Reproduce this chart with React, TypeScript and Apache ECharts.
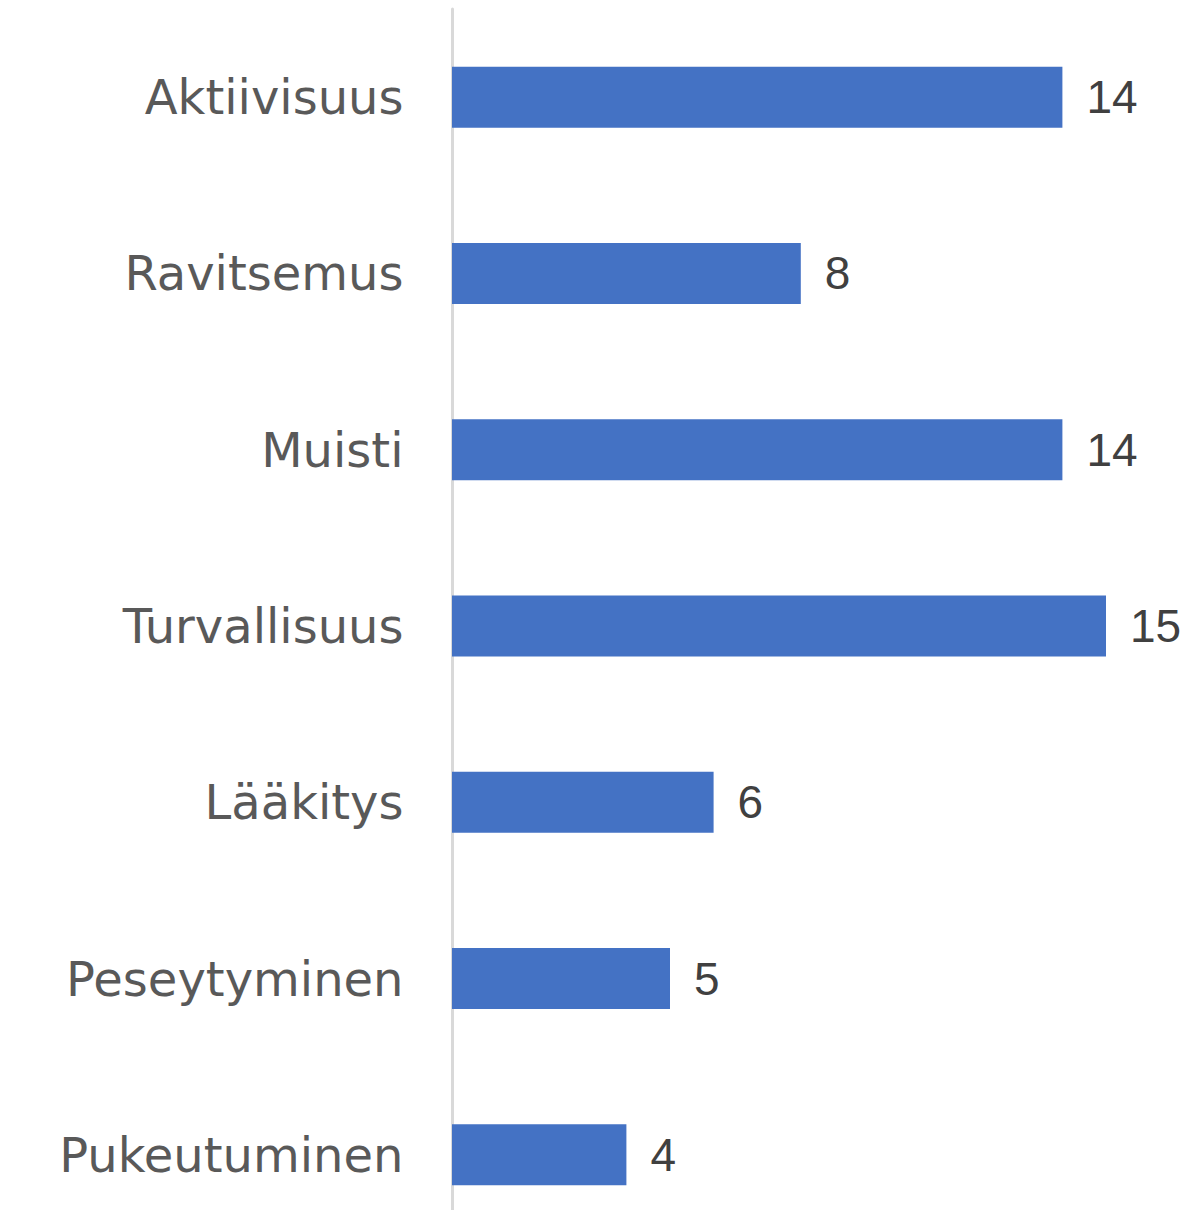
import React, { useEffect, useRef } from "react";
import * as echarts from "echarts";

const categories = [
  "Aktiivisuus",
  "Ravitsemus",
  "Muisti",
  "Turvallisuus",
  "Lääkitys",
  "Peseytyminen",
  "Pukeutuminen",
];
const values = [14, 8, 14, 15, 6, 5, 4];

export default function App() {
  const ref = useRef<HTMLDivElement>(null);
  useEffect(() => {
    if (!ref.current) return;
    const chart = echarts.init(ref.current, undefined, { renderer: "svg" });
    chart.setOption({
      animation: false,
      backgroundColor: "#ffffff",
      grid: { left: 452, top: 9, width: 697.6, height: 1234, containLabel: false },
      xAxis: {
        type: "value",
        min: 0,
        max: 16,
        show: false,
        splitLine: { show: false },
      },
      yAxis: {
        type: "category",
        data: categories,
        inverse: true,
        offset: 2.5,
        axisLine: { show: true, lineStyle: { color: "#d9d9d9", width: 3 } },
        axisTick: { show: false },
        axisLabel: {
          margin: 46,
          color: "#595959",
          fontSize: 48,
          fontFamily: "DejaVu Sans",
        },
      },
      series: [
        {
          type: "bar",
          data: values,
          barWidth: 61,
          itemStyle: { color: "#4472c4" },
          label: {
            show: true,
            position: "right",
            distance: 24,
            color: "#404040",
            fontSize: 46,
            fontFamily: "Liberation Sans",
          },
        },
      ],
    });
    return () => chart.dispose();
  }, []);
  return (
    <div
      style={{
        position: "absolute",
        left: 0,
        top: 0,
        width: 1181,
        height: 1210,
        overflow: "hidden",
      }}
    >
      <div ref={ref} style={{ width: 1181, height: 1260 }} />
    </div>
  );
}
